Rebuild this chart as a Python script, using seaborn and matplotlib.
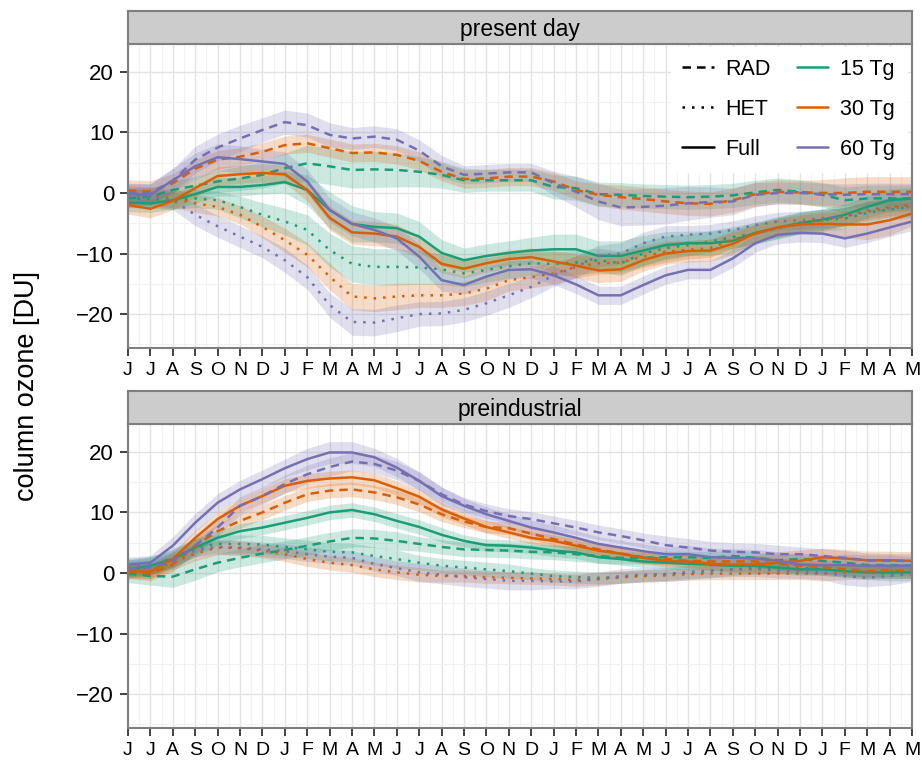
import numpy as np
import pandas as pd
import matplotlib
matplotlib.use('Agg')
import matplotlib.pyplot as plt
import seaborn as sns
from matplotlib.lines import Line2D
from matplotlib.ticker import MultipleLocator

# ---------------------------------------------------------------------------
# data (column ozone anomaly in DU, 36 months starting in June)
# ---------------------------------------------------------------------------
month_labels = ['J', 'J', 'A', 'S', 'O', 'N', 'D', 'J', 'F', 'M', 'A', 'M'] * 3
month_idx = np.arange(36)
sizes = ['15 Tg', '30 Tg', '60 Tg']
experiments = ['RAD', 'HET', 'Full']
panels = ['present day', 'preindustrial']

# present day
pd_rad_15 = [-0.9, -0.6, 0.5, 1.2, 1.9, 2.4, 3.0, 4.1, 4.9, 4.4, 3.8, 3.9, 3.8, 3.5, 3.0, 2.1, 2.1, 2.1,
             2.1, 1.0, 0.8, -0.2, -0.3, -0.5, -0.6, -0.7, -0.6, -0.4, 0.1, 0.5, 0.2, -0.3, -1.2, -0.9, -0.9, -0.9]
pd_rad_30 = [0.4, 0.2, 1.6, 4.0, 5.5, 6.0, 6.8, 7.9, 8.2, 7.4, 6.6, 6.7, 6.3, 5.3, 3.5, 2.3, 2.4, 2.7,
             2.7, 1.9, 0.5, -0.3, -0.7, -1.0, -1.4, -1.7, -1.8, -1.2, -0.2, 0.2, 0.1, 0.0, 0.0, 0.2, 0.2, 0.2]
pd_rad_60 = [0.0, 0.0, 2.0, 5.5, 7.5, 9.0, 10.4, 11.7, 11.2, 9.6, 9.0, 9.3, 8.8, 7.0, 4.4, 3.0, 3.2, 3.4,
             3.4, 1.6, 0.2, -1.4, -2.4, -2.3, -2.1, -1.7, -1.5, -1.4, -0.3, 0.0, 0.0, -0.2, -0.3, -0.2, -0.2, -0.2]
pd_het_15 = [-0.9, -1.0, -1.2, -0.9, -1.2, -2.3, -3.6, -4.7, -6.1, -9.4, -11.7, -12.2, -12.2, -12.3, -12.6, -13.3, -12.7, -12.1,
             -11.6, -11.7, -11.5, -11.1, -11.6, -10.0, -9.1, -8.6, -8.0, -7.3, -6.7, -5.8, -4.9, -4.5, -4.2, -3.3, -2.7, -2.3]
pd_het_30 = [-0.3, -0.5, -0.9, -1.7, -2.3, -3.6, -5.6, -7.8, -10.2, -13.8, -17.1, -17.4, -17.1, -16.9, -16.9, -16.6, -15.8, -14.4,
             -13.9, -13.3, -12.2, -11.6, -11.5, -10.5, -9.7, -9.4, -9.1, -7.7, -6.7, -5.7, -4.9, -4.5, -3.9, -2.8, -2.3, -2.0]
pd_het_60 = [-0.6, -0.6, -1.2, -3.6, -5.5, -7.2, -8.9, -11.1, -13.9, -18.5, -21.3, -21.4, -20.7, -20.0, -19.9, -19.3, -18.2, -16.9,
             -15.5, -13.6, -12.2, -10.4, -10.0, -8.3, -7.2, -6.9, -6.7, -6.1, -5.3, -4.7, -4.5, -4.2, -3.9, -3.1, -2.5, -2.3]
pd_full_15 = [-1.6, -1.7, -1.2, -0.2, 1.0, 1.0, 1.3, 1.8, 0.5, -2.8, -5.1, -5.6, -5.8, -7.2, -9.9, -11.1, -10.4, -9.9,
              -9.5, -9.3, -9.3, -10.4, -10.4, -9.5, -8.6, -8.3, -8.3, -7.9, -6.6, -5.7, -5.0, -4.4, -3.6, -2.3, -1.2, -0.9]
pd_full_30 = [-2.0, -2.6, -1.3, 0.8, 2.8, 3.1, 3.3, 3.1, 0.5, -4.1, -6.5, -6.7, -7.2, -8.9, -11.7, -12.5, -11.6, -10.9,
              -10.6, -11.3, -12.0, -12.8, -12.6, -11.1, -10.0, -9.6, -9.5, -8.4, -6.7, -5.7, -5.2, -5.1, -5.2, -5.2, -4.5, -3.4]
pd_full_60 = [-0.2, -0.3, 2.1, 4.4, 5.9, 5.6, 5.2, 4.8, 1.9, -2.8, -5.1, -6.1, -7.5, -10.5, -14.4, -15.2, -13.8, -12.7,
              -12.6, -13.6, -15.1, -16.9, -16.9, -15.2, -13.6, -12.7, -12.7, -10.8, -8.3, -6.9, -6.6, -6.7, -7.5, -6.7, -5.7, -4.7]

# present day, half width of the shaded band
pd_rad_15_err = [1.5, 1.5, 1.5, 1.5, 1.8, 2.0, 2.2, 2.5, 3.0, 3.0, 3.0, 3.0, 2.8, 2.5, 2.2, 2.0, 1.8, 1.8,
                 1.8, 2.0, 2.0, 2.0, 2.0, 2.0, 2.0, 2.0, 2.0, 2.0, 2.0, 2.0, 2.0, 2.0, 2.2, 2.2, 2.2, 2.2]
pd_rad_30_err = [1.8, 1.8, 1.6, 1.5, 1.5, 1.5, 1.5, 1.5, 1.5, 1.5, 1.5, 1.5, 1.5, 1.5, 1.5, 1.5, 1.5, 1.5,
                 1.5, 1.5, 1.5, 1.8, 2.0, 2.0, 2.0, 2.0, 2.0, 2.0, 2.0, 2.0, 2.0, 2.2, 2.5, 2.5, 2.5, 2.5]
pd_rad_60_err = [1.5, 1.5, 2.0, 2.2, 2.2, 2.2, 2.0, 2.0, 2.0, 2.0, 1.8, 1.8, 1.8, 1.8, 1.8, 1.5, 1.5, 1.5,
                 1.5, 2.0, 2.5, 3.0, 3.0, 3.0, 3.0, 2.8, 2.5, 2.2, 2.0, 1.8, 1.8, 1.8, 1.8, 1.8, 1.8, 1.8]
pd_het_15_err = [1.5, 1.5, 1.5, 1.5, 1.5, 1.8, 2.0, 2.2, 2.5, 2.8, 3.0, 3.0, 3.0, 2.8, 2.5, 2.2, 2.0, 2.0,
                 2.0, 2.0, 2.0, 2.0, 2.0, 2.0, 2.0, 1.8, 1.8, 1.8, 1.8, 1.8, 1.8, 1.8, 1.8, 1.8, 1.8, 1.8]
pd_het_30_err = [1.5, 1.5, 1.5, 1.5, 1.5, 1.5, 1.8, 2.0, 2.0, 2.2, 2.2, 2.2, 2.2, 2.0, 2.0, 2.0, 2.0, 1.8,
                 1.8, 1.8, 1.8, 1.8, 1.8, 1.8, 1.8, 1.5, 1.5, 1.5, 1.5, 1.5, 1.5, 1.5, 1.5, 1.5, 1.5, 1.5]
pd_het_60_err = [1.5, 1.5, 1.5, 1.8, 1.8, 1.8, 1.8, 2.0, 2.0, 2.0, 2.2, 2.2, 2.2, 2.0, 2.0, 2.0, 2.0, 2.0,
                 1.8, 1.8, 1.8, 1.8, 1.8, 1.8, 1.8, 1.5, 1.5, 1.5, 1.5, 1.5, 1.5, 1.5, 1.5, 1.5, 1.5, 1.5]
pd_full_15_err = [1.5, 1.5, 1.5, 1.5, 1.5, 1.5, 1.5, 1.8, 2.5, 3.0, 3.0, 2.5, 2.5, 2.5, 2.2, 2.0, 2.0, 2.0,
                  2.2, 2.5, 2.5, 2.5, 2.5, 2.5, 2.2, 2.0, 2.0, 2.0, 1.8, 1.8, 1.8, 1.8, 1.8, 1.8, 1.8, 1.8]
pd_full_30_err = [1.5, 1.5, 1.5, 1.5, 1.5, 1.5, 1.5, 1.5, 1.8, 2.0, 2.0, 2.0, 2.0, 1.8, 1.5, 1.5, 1.5, 1.5,
                  1.5, 1.8, 2.0, 2.0, 2.0, 1.8, 1.8, 1.8, 1.8, 1.8, 1.5, 1.5, 1.5, 1.8, 2.2, 2.5, 2.5, 2.0]
pd_full_60_err = [1.8, 1.8, 2.0, 2.2, 2.2, 2.2, 2.0, 2.0, 2.0, 2.0, 2.0, 2.0, 2.0, 2.0, 1.8, 1.5, 1.5, 1.5,
                  1.5, 1.5, 1.5, 1.5, 1.5, 1.5, 1.5, 1.5, 1.5, 1.5, 1.5, 1.5, 1.5, 1.5, 1.5, 1.5, 1.5, 1.5]

# preindustrial
pi_rad_15 = [-0.1, -0.5, -0.6, 0.6, 1.7, 2.5, 3.2, 3.8, 4.5, 5.2, 5.8, 5.7, 5.3, 4.8, 4.3, 3.9, 3.8, 3.7,
             3.5, 3.4, 3.1, 2.8, 2.5, 2.5, 2.6, 2.6, 2.5, 2.8, 2.5, 2.1, 2.3, 2.0, 1.7, 1.3, 1.3, 1.2]
pi_rad_30 = [0.3, -0.1, 1.4, 4.5, 6.9, 8.6, 10.0, 11.6, 13.0, 13.6, 13.8, 13.3, 12.5, 11.3, 9.7, 8.5, 7.6, 7.4,
             6.5, 5.6, 4.7, 3.9, 3.2, 2.6, 2.3, 2.0, 1.9, 1.9, 1.9, 1.5, 1.2, 1.0, 0.6, 0.3, 0.4, 0.3]
pi_rad_60 = [0.6, 0.9, 2.0, 4.5, 7.5, 11.1, 12.7, 14.7, 16.3, 17.5, 18.4, 18.0, 16.9, 15.2, 13.0, 11.3, 10.2, 9.4,
             8.9, 8.2, 7.5, 6.7, 6.1, 5.4, 4.6, 4.2, 3.7, 3.5, 3.4, 3.1, 3.1, 2.8, 2.5, 2.1, 2.0, 2.0]
pi_het_15 = [0.9, 1.2, 2.5, 4.2, 4.8, 4.8, 4.7, 4.3, 3.9, 3.5, 3.4, 2.8, 2.3, 1.7, 1.2, 0.9, 0.6, 0.3,
             -0.1, -0.5, -0.7, -0.8, -0.7, -0.4, -0.2, 0.1, 0.3, 0.6, 0.8, 0.9, 0.9, 0.6, 0.3, 0.1, -0.1, -0.1]
pi_het_30 = [0.6, 0.3, 1.7, 3.2, 4.2, 4.1, 3.7, 3.1, 2.3, 1.7, 1.3, 0.6, 0.1, -0.3, -0.5, -0.5, -0.7, -0.8,
             -0.9, -1.0, -1.2, -1.0, -0.7, -0.5, -0.4, -0.2, -0.1, -0.1, -0.1, -0.1, -0.1, -0.1, 0.1, 0.2, 0.3, 0.3]
pi_het_60 = [1.0, 1.2, 2.3, 3.7, 4.3, 4.2, 3.9, 3.6, 3.1, 2.7, 2.5, 1.5, 0.8, 0.1, -0.3, -0.7, -1.0, -1.3,
             -1.3, -1.4, -1.4, -1.0, -0.5, -0.3, -0.2, 0.1, 0.4, 0.6, 0.6, 0.4, 0.3, 0.1, -0.5, -0.8, -0.5, -0.2]
pi_full_15 = [0.6, 1.2, 2.3, 4.2, 5.8, 6.9, 7.5, 8.3, 9.1, 10.0, 10.4, 9.7, 8.6, 7.6, 6.3, 5.3, 4.6, 4.5,
              4.2, 3.7, 3.4, 2.6, 2.3, 1.9, 1.7, 1.5, 1.4, 1.2, 1.2, 0.9, 0.6, 0.6, 0.3, 0.1, 0.1, 0.1]
pi_full_30 = [0.3, 0.2, 2.3, 5.8, 8.9, 11.1, 12.7, 14.4, 15.2, 15.6, 15.8, 15.3, 14.0, 12.6, 10.5, 9.0, 7.6, 6.7,
              5.8, 5.3, 4.5, 3.7, 3.2, 2.5, 2.0, 1.9, 1.5, 1.4, 1.4, 1.7, 2.0, 2.6, 2.4, 2.1, 2.1, 2.0]
pi_full_60 = [1.4, 1.7, 4.5, 8.3, 11.6, 13.8, 15.5, 17.3, 18.8, 19.9, 19.9, 19.1, 17.4, 15.2, 12.7, 11.1, 9.7, 8.6,
              7.5, 6.7, 5.8, 4.8, 4.2, 3.6, 3.1, 3.1, 2.6, 2.5, 2.4, 2.0, 1.4, 1.3, 1.3, 1.2, 1.2, 1.2]

# preindustrial, half width of the shaded band
pi_rad_15_err = [1.5, 1.5, 1.8, 1.8, 1.5, 1.5, 1.5, 1.5, 1.5, 1.5, 1.5, 1.5, 1.5, 1.2, 1.2, 1.2, 1.2, 1.2,
                 1.2, 1.2, 1.2, 1.2, 1.0, 1.0, 1.0, 1.0, 1.0, 1.0, 1.0, 1.0, 1.0, 1.0, 1.0, 1.0, 1.0, 1.0]
pi_rad_30_err = [1.2, 1.2, 1.2, 1.2, 1.2, 1.2, 1.2, 1.2, 1.2, 1.2, 1.2, 1.2, 1.2, 1.2, 1.2, 1.0, 1.0, 1.0,
                 1.0, 1.0, 1.0, 1.0, 1.0, 1.0, 1.0, 1.0, 1.0, 1.0, 1.0, 1.0, 1.0, 1.0, 1.0, 1.0, 1.0, 1.0]
pi_rad_60_err = [1.2, 1.2, 1.2, 1.5, 1.5, 1.5, 1.5, 1.5, 1.5, 1.5, 1.5, 1.5, 1.5, 1.5, 1.2, 1.2, 1.2, 1.2,
                 1.2, 1.2, 1.2, 1.2, 1.2, 1.2, 1.5, 1.5, 1.5, 1.5, 1.5, 1.5, 1.2, 1.2, 1.2, 1.2, 1.2, 1.2]
pi_het_15_err = [1.5, 1.5, 1.5, 1.5, 1.5, 1.5, 1.5, 1.5, 1.5, 1.5, 1.5, 1.5, 1.5, 1.2, 1.2, 1.2, 1.2, 1.2,
                 1.0, 1.0, 1.0, 1.0, 1.0, 1.0, 1.0, 1.0, 1.0, 1.0, 1.0, 1.0, 1.0, 1.0, 1.0, 1.2, 1.2, 1.2]
pi_het_30_err = [1.2, 1.2, 1.2, 1.2, 1.2, 1.2, 1.2, 1.2, 1.2, 1.2, 1.2, 1.2, 1.2, 1.2, 1.0, 1.0, 1.0, 1.0,
                 1.0, 1.0, 1.0, 1.0, 1.0, 1.0, 1.0, 1.0, 1.0, 1.0, 1.0, 1.0, 1.0, 1.2, 1.2, 1.2, 1.2, 1.2]
pi_het_60_err = [1.2, 1.2, 1.2, 1.2, 1.2, 1.2, 1.2, 1.2, 1.2, 1.2, 1.2, 1.2, 1.2, 1.5, 1.5, 1.5, 1.5, 1.5,
                 1.5, 1.2, 1.2, 1.2, 1.2, 1.2, 1.2, 1.2, 1.2, 1.2, 1.2, 1.2, 1.2, 1.2, 1.5, 1.5, 1.5, 1.2]
pi_full_15_err = [1.5, 1.5, 1.5, 1.5, 1.2, 1.2, 1.2, 1.2, 1.2, 1.2, 1.2, 1.2, 1.2, 1.2, 1.2, 1.0, 1.0, 1.0,
                  1.0, 1.0, 1.0, 1.0, 1.0, 1.0, 1.0, 1.0, 1.0, 1.0, 1.0, 1.0, 1.0, 1.0, 1.0, 1.0, 1.0, 1.0]
pi_full_30_err = [1.2, 1.2, 1.2, 1.2, 1.2, 1.2, 1.2, 1.2, 1.2, 1.2, 1.2, 1.2, 1.2, 1.2, 1.2, 1.0, 1.0, 1.0,
                  1.0, 1.0, 1.0, 1.0, 1.0, 1.0, 1.0, 1.0, 1.0, 1.2, 1.5, 1.8, 1.8, 1.5, 1.5, 1.5, 1.5, 1.5]
pi_full_60_err = [1.2, 1.2, 1.5, 1.5, 1.5, 1.5, 1.5, 1.5, 1.8, 1.8, 1.8, 1.5, 1.5, 1.5, 1.5, 1.2, 1.2, 1.2,
                  1.2, 1.2, 1.2, 1.2, 1.2, 1.2, 1.2, 1.5, 1.5, 1.5, 1.5, 1.5, 1.5, 1.5, 1.8, 1.8, 1.8, 1.5]

series = {
    ('present day', 'RAD', '15 Tg'): (pd_rad_15, pd_rad_15_err),
    ('present day', 'RAD', '30 Tg'): (pd_rad_30, pd_rad_30_err),
    ('present day', 'RAD', '60 Tg'): (pd_rad_60, pd_rad_60_err),
    ('present day', 'HET', '15 Tg'): (pd_het_15, pd_het_15_err),
    ('present day', 'HET', '30 Tg'): (pd_het_30, pd_het_30_err),
    ('present day', 'HET', '60 Tg'): (pd_het_60, pd_het_60_err),
    ('present day', 'Full', '15 Tg'): (pd_full_15, pd_full_15_err),
    ('present day', 'Full', '30 Tg'): (pd_full_30, pd_full_30_err),
    ('present day', 'Full', '60 Tg'): (pd_full_60, pd_full_60_err),
    ('preindustrial', 'RAD', '15 Tg'): (pi_rad_15, pi_rad_15_err),
    ('preindustrial', 'RAD', '30 Tg'): (pi_rad_30, pi_rad_30_err),
    ('preindustrial', 'RAD', '60 Tg'): (pi_rad_60, pi_rad_60_err),
    ('preindustrial', 'HET', '15 Tg'): (pi_het_15, pi_het_15_err),
    ('preindustrial', 'HET', '30 Tg'): (pi_het_30, pi_het_30_err),
    ('preindustrial', 'HET', '60 Tg'): (pi_het_60, pi_het_60_err),
    ('preindustrial', 'Full', '15 Tg'): (pi_full_15, pi_full_15_err),
    ('preindustrial', 'Full', '30 Tg'): (pi_full_30, pi_full_30_err),
    ('preindustrial', 'Full', '60 Tg'): (pi_full_60, pi_full_60_err),
}

# long table
rows = []
for (panel, exp, size), (vals, err) in series.items():
    for m, v, e in zip(month_idx, vals, err):
        rows.append({'panel': panel, 'exp': exp, 'size': size, 'month': m,
                     'ozone': v, 'lo': v - e, 'hi': v + e})
df = pd.DataFrame(rows)

# ---------------------------------------------------------------------------
# style
# ---------------------------------------------------------------------------
colors = {'15 Tg': '#1b9e77', '30 Tg': '#d95f02', '60 Tg': '#7570b3'}
dashes = {'RAD': (3.4, 2.4), 'HET': (1, 2.8), 'Full': ''}
lw = 1.8

sns.set_theme(style='white')
plt.rcParams['font.family'] = ['Liberation Sans', 'DejaVu Sans']
plt.rcParams['text.color'] = 'black'
plt.rcParams['xtick.color'] = 'black'
plt.rcParams['ytick.color'] = 'black'

fig = plt.figure(figsize=(9.22, 7.63), dpi=100)

W, H = 922.0, 763.0
left, right = 128, 912
panel_px = {'present day': (44, 348, 11), 'preindustrial': (424, 728, 391)}
border = '#7f7f7f'

for panel in panels:
    top, bottom, strip_top = panel_px[panel]
    ax = fig.add_axes([left / W, (H - bottom) / H, (right - left) / W, (bottom - top) / H])
    sub = df[df['panel'] == panel]

    # ribbons first, lines on top
    for exp in experiments:
        for size in sizes:
            s = sub[(sub['exp'] == exp) & (sub['size'] == size)]
            ax.fill_between(s['month'], s['lo'], s['hi'], color=colors[size],
                            alpha=0.22, linewidth=0)

    sns.lineplot(data=sub, x='month', y='ozone', hue='size', style='exp',
                 hue_order=sizes, style_order=experiments, palette=colors,
                 dashes=dashes, linewidth=lw, legend=False, errorbar=None, ax=ax)

    ax.set_xlim(0, 35)
    ax.set_ylim(-25.6, 24.6)
    ax.xaxis.set_minor_locator(MultipleLocator(0.5))
    ax.yaxis.set_minor_locator(MultipleLocator(5))
    ax.set_xticks(month_idx)
    ax.set_xticklabels(month_labels, fontsize=14)
    ax.set_yticks([-20, -10, 0, 10, 20])
    ax.set_yticklabels(['\u221220', '\u221210', '0', '10', '20'], fontsize=16)
    ax.grid(which='major', color='#e3e3e3', linewidth=1.0)
    ax.grid(which='minor', color='#f2f2f2', linewidth=0.8)
    ax.set_axisbelow(True)
    ax.tick_params(which='major', length=6, width=1.3, color='#333333', pad=4,
                   bottom=True, left=True, labelcolor='black')
    ax.tick_params(which='minor', length=0)
    ax.set_xlabel('')
    ax.set_ylabel('')
    for sp in ax.spines.values():
        sp.set_color(border)
        sp.set_linewidth(1.5)

    # facet strip
    sax = fig.add_axes([left / W, (H - top) / H, (right - left) / W, (top - strip_top) / H])
    sax.set_facecolor('#cccccc')
    sax.set_xticks([])
    sax.set_yticks([])
    for sp in sax.spines.values():
        sp.set_color(border)
        sp.set_linewidth(1.5)
    sax.text(0.5, 0.45, panel, ha='center', va='center', fontsize=16.5, color='black',
             transform=sax.transAxes)

    if panel == 'present day':
        handles = [Line2D([], [], color='black', lw=lw, dashes=dashes['RAD']),
                   Line2D([], [], color='black', lw=lw, dashes=dashes['HET']),
                   Line2D([], [], color='black', lw=lw)]
        handles += [Line2D([], [], color=colors[s], lw=lw) for s in sizes]
        leg = ax.legend(handles, experiments + sizes, ncol=2, loc='upper right',
                        bbox_to_anchor=(0.993, 0.99), fontsize=15.5, frameon=True,
                        fancybox=False, framealpha=1, edgecolor='white',
                        handlelength=1.45, handletextpad=0.55, columnspacing=1.2,
                        labelspacing=0.88, borderaxespad=0, borderpad=0.55)

fig.text(0.029, 0.494, 'column ozone [DU]', rotation=90, ha='center', va='center',
         fontsize=19.5)

fig.savefig('out.png', dpi=100)
